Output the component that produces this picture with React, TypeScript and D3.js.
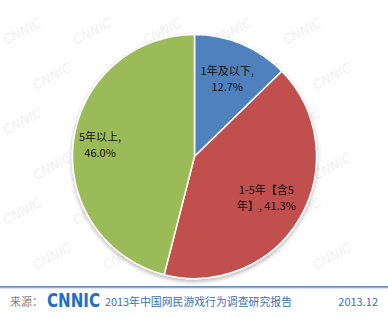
import React from "react";
import * as d3 from "d3";

const categories = ["1年及以下", "1-5年【含5年】", "5年以上"];
const values = [12.7, 41.3, 46.0];
const labelLines = [
  ["1年及以下,", "12.7%"],
  ["1-5年【含5", "年】, 41.3%"],
  ["5年以上,", "46.0%"],
];
const colors = ["#4F81BD", "#C0504D", "#9BBB59"];
const footerSource = "来源：";
const footerTitle = "2013年中国网民游戏行为调查研究报告";
const footerDate = "2013.12";

const W = 388;
const H = 318;
const cx = 194.5;
const cy = 156.5;
const R = 122;
const labelRadiusFactor = [0.69, 0.68, 0.78];

export default function App() {
  const pie = d3
    .pie<number>()
    .sort(null)
    .value((d) => d)
    .startAngle(0)
    .endAngle(2 * Math.PI);
  const arcs = pie(values);
  const arc = d3.arc<d3.PieArcDatum<number>>().innerRadius(0).outerRadius(R);

  const watermarks: { x: number; y: number }[] = [];
  for (let row = 0; row < 6; row++) {
    for (let col = 0; col < 5; col++) {
      watermarks.push({ x: col * 70 + (row % 2) * 30 + 6, y: row * 45 + 45 });
    }
  }

  return (
    <svg
      width={W}
      height={H}
      style={{ position: "absolute", left: 0, top: 0, background: "#fff" }}
      fontFamily="'Noto Sans CJK SC', 'Noto Sans', sans-serif"
    >
      <defs>
        <filter id="shadow" x="-20%" y="-20%" width="140%" height="140%">
          <feDropShadow dx="0" dy="2" stdDeviation="2" floodColor="#000" floodOpacity="0.3" />
        </filter>
        <linearGradient id="footerLine" x1="0" y1="0" x2="0" y2="1">
          <stop offset="0" stopColor="#4F81BD" />
          <stop offset="1" stopColor="#B9CDE9" />
        </linearGradient>
      </defs>
      <rect x={0} y={0} width={W} height={H} fill="#fff" />
      <g fill="#f0f0f0" fontSize={13} fontStyle="italic" fontFamily="'DejaVu Sans', sans-serif">
        {watermarks.map((w, i) => (
          <text key={i} x={w.x} y={w.y} transform={`rotate(-28 ${w.x} ${w.y})`}>
            CNNIC
          </text>
        ))}
      </g>
      <g transform={`translate(${cx},${cy})`}>
        <g filter="url(#shadow)">
          {arcs.map((a, i) => (
            <path key={categories[i]} d={arc(a) || ""} fill={colors[i]} stroke="#fff" strokeWidth={1.5} strokeLinejoin="round" />
          ))}
        </g>
        {arcs.map((a, i) => {
          const mid = (a.startAngle + a.endAngle) / 2;
          const lr = R * labelRadiusFactor[i];
          const x = lr * Math.sin(mid);
          const y = -lr * Math.cos(mid);
          return (
            <text key={"l" + i} x={x} y={y} textAnchor="middle" fontSize={11} fill="#111">
              <tspan x={x} dy={-4}>{labelLines[i][0]}</tspan>
              <tspan x={x} dy={16}>{labelLines[i][1]}</tspan>
            </text>
          );
        })}
      </g>
      <rect x={0} y={286} width={W} height={2.5} fill="url(#footerLine)" />
      <text x={10} y={306} fontSize={11} fill="#7f7f7f">{footerSource}</text>
      <text
        x={47}
        y={307}
        fontSize={19}
        fontWeight={900}
        fill="#1F6FC5"
        fontFamily="'DejaVu Sans', sans-serif"
        textLength={53}
        lengthAdjust="spacingAndGlyphs"
      >
        CNNIC
      </text>
      <text x={105} y={306} fontSize={11} fill="#3B6FB6" textLength={187} lengthAdjust="spacingAndGlyphs">
        {footerTitle}
      </text>
      <text x={378} y={306} fontSize={11} fill="#3B6FB6" textAnchor="end">{footerDate}</text>
    </svg>
  );
}
